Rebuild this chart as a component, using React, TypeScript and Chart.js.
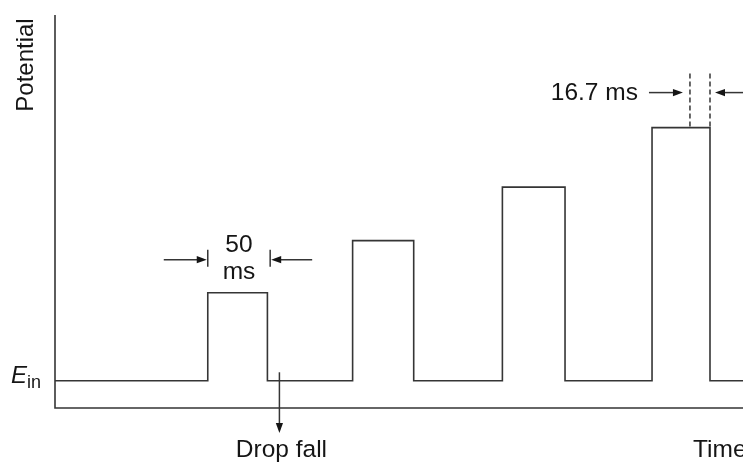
import { useEffect, useRef } from "react";
import { Chart, registerables } from "chart.js";

Chart.register(...registerables);

// Time in ms, potential in arbitrary units relative to E_in
const pulseStartMs = [127.3, 248, 372.8, 497.5];
const pulseEndMs = [177, 298.9, 425, 545.8];
const pulseHeights = [88, 140, 193.5, 253];
const baselinePotential = 0;
const timeEndMs = 573.3;
const potentialMin = -27.2;
const potentialMax = 365.5;

const dropFallMs = 187;
const pulseWidthMarksMs = [127.3, 179.3];
const samplingMarksMs = [529.1, 545.8];

const yAxisTitle = "Potential";
const xAxisTitle = "Time";
const dropFallLabel = "Drop fall";
const pulseWidthLabel = ["50", "ms"];
const samplingLabel = "16.7 ms";
const einMain = "E";
const einSub = "in";

const FONT = '"Liberation Sans", Arial, Helvetica, sans-serif';
const INK = "#151515";
const LINE = "#353535";

function buildPoints() {
  const pts: { x: number; y: number }[] = [{ x: 0, y: baselinePotential }];
  for (let i = 0; i < pulseStartMs.length; i++) {
    pts.push({ x: pulseStartMs[i], y: pulseHeights[i] });
    pts.push({ x: pulseEndMs[i], y: baselinePotential });
  }
  pts.push({ x: timeEndMs, y: baselinePotential });
  return pts;
}

function arrow(ctx: CanvasRenderingContext2D, x1: number, y1: number, x2: number, y2: number) {
  const ang = Math.atan2(y2 - y1, x2 - x1);
  const len = 10;
  const hw = 3.6;
  ctx.beginPath();
  ctx.moveTo(x1, y1);
  ctx.lineTo(x2 - Math.cos(ang) * (len - 1), y2 - Math.sin(ang) * (len - 1));
  ctx.stroke();
  ctx.beginPath();
  ctx.moveTo(x2, y2);
  ctx.lineTo(x2 - Math.cos(ang) * len - Math.sin(ang) * hw, y2 - Math.sin(ang) * len + Math.cos(ang) * hw);
  ctx.lineTo(x2 - Math.cos(ang) * len + Math.sin(ang) * hw, y2 - Math.sin(ang) * len - Math.cos(ang) * hw);
  ctx.closePath();
  ctx.fill();
}

const annotationPlugin = {
  id: "annotations",
  afterDraw(chart: any) {
    const { ctx, chartArea, scales } = chart;
    const xs = scales.x;
    const ys = scales.y;
    const W = chart.width;
    ctx.save();
    ctx.strokeStyle = LINE;
    ctx.fillStyle = INK;
    ctx.lineWidth = 1.6;

    // axes
    ctx.beginPath();
    ctx.moveTo(chartArea.left, chartArea.top);
    ctx.lineTo(chartArea.left, chartArea.bottom);
    ctx.lineTo(W + 5, chartArea.bottom);
    ctx.stroke();

    // y title
    ctx.save();
    ctx.font = `24px ${FONT}`;
    ctx.textAlign = "center";
    ctx.textBaseline = "alphabetic";
    ctx.translate(33, 65);
    ctx.rotate(-Math.PI / 2);
    ctx.fillText(yAxisTitle, 0, 0);
    ctx.restore();

    // E_in label
    const yBase = ys.getPixelForValue(baselinePotential);
    ctx.textAlign = "left";
    ctx.textBaseline = "alphabetic";
    ctx.font = `italic 24px ${FONT}`;
    ctx.fillText(einMain, 11, yBase + 2);
    ctx.font = `18px ${FONT}`;
    ctx.fillText(einSub, 27, yBase + 7);

    // 50 ms annotation
    ctx.font = `24.5px ${FONT}`;
    const top1 = ys.getPixelForValue(pulseHeights[0]);
    const xL = xs.getPixelForValue(pulseWidthMarksMs[0]);
    const xR = xs.getPixelForValue(pulseWidthMarksMs[1]);
    const ya = top1 - 33;
    ctx.lineWidth = 1.5;
    ctx.beginPath();
    ctx.moveTo(xL, top1 - 43);
    ctx.lineTo(xL, top1 - 26);
    ctx.moveTo(xR, top1 - 43);
    ctx.lineTo(xR, top1 - 26);
    ctx.stroke();
    arrow(ctx, xL - 44, ya, xL - 1, ya);
    arrow(ctx, xR + 42, ya, xR + 1, ya);
    ctx.textAlign = "center";
    const xm = (xL + xR) / 2;
    ctx.fillText(pulseWidthLabel[0], xm, top1 - 40.5);
    ctx.fillText(pulseWidthLabel[1], xm, top1 - 13.5);

    // 16.7 ms annotation
    const top4 = ys.getPixelForValue(pulseHeights[3]);
    const d1 = xs.getPixelForValue(samplingMarksMs[0]);
    const d2 = xs.getPixelForValue(samplingMarksMs[1]);
    ctx.setLineDash([5, 3]);
    ctx.beginPath();
    ctx.moveTo(d1, top4 - 54);
    ctx.lineTo(d1, top4);
    ctx.moveTo(d2, top4 - 54);
    ctx.lineTo(d2, top4);
    ctx.stroke();
    ctx.setLineDash([]);
    const yb = top4 - 35;
    arrow(ctx, d1 - 41, yb, d1 - 7, yb);
    arrow(ctx, d2 + 42, yb, d2 + 5, yb);
    ctx.textAlign = "right";
    ctx.fillText(samplingLabel, d1 - 52, yb + 7.5);

    // Drop fall
    const xd = xs.getPixelForValue(dropFallMs);
    arrow(ctx, xd, yBase - 8.5, xd, chartArea.bottom + 25);
    ctx.textAlign = "center";
    ctx.fillText(dropFallLabel, xd + 2, chartArea.bottom + 49);

    // Time
    ctx.textAlign = "left";
    ctx.fillText(xAxisTitle, 693, chartArea.bottom + 49);

    ctx.restore();
  },
};

export default function App() {
  const ref = useRef<HTMLCanvasElement | null>(null);
  useEffect(() => {
    if (!ref.current) return;
    const chart = new Chart(ref.current, {
      type: "line",
      data: {
        datasets: [
          {
            data: buildPoints(),
            borderColor: LINE,
            borderWidth: 1.6,
            pointRadius: 0,
            stepped: true,
            fill: false,
          },
        ],
      },
      options: {
        responsive: false,
        animation: false,
        devicePixelRatio: 1,
        layout: { padding: { left: 55, top: 15, right: 0, bottom: 54 } },
        scales: {
          x: { type: "linear", min: 0, max: timeEndMs, display: false },
          y: { type: "linear", min: potentialMin, max: potentialMax, display: false },
        },
        plugins: { legend: { display: false }, tooltip: { enabled: false } },
      },
      plugins: [annotationPlugin],
    });
    return () => chart.destroy();
  }, []);
  return (
    <div style={{ position: "absolute", left: 0, top: 0, width: 743, height: 462, background: "#fff" }}>
      <canvas ref={ref} width={743} height={462} style={{ display: "block" }} />
    </div>
  );
}
